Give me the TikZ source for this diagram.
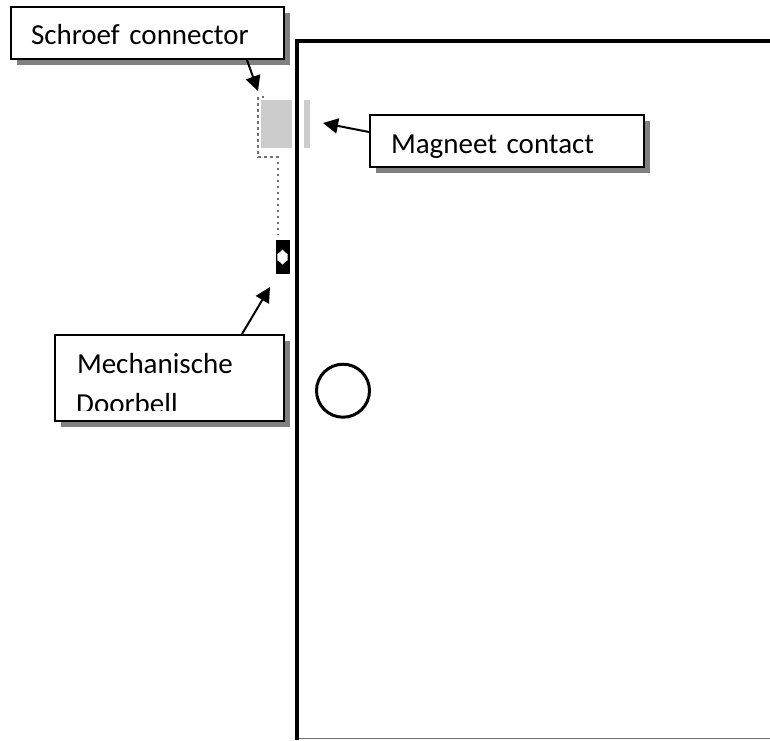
\documentclass[tikz,border=0pt]{standalone}
\usepackage{fontspec}
\setmainfont{Carlito}
\usetikzlibrary{arrows.meta,shadows,calc}
\tikzset{
  callout/.style={draw=black,line width=2pt,fill=white,inner ysep=0pt,anchor=north west,align=left,
    drop shadow={shadow xshift=5.5pt,shadow yshift=-5.5pt,fill=shadowgray,opacity=1}},
  lbl/.style={font=\fontsize{29}{41}\selectfont},
  pointer/.style={line width=2pt,-{Triangle[length=15pt,width=15pt]},shorten >=0pt},
  door/.style={line width=4pt,draw=black},
  part/.style={fill=partgray,draw=none,inner sep=0pt,anchor=north west},
  wire/.style={draw=wiregray,line width=2.2pt,dash pattern=on 2.2pt off 3.8pt}
}
\definecolor{shadowgray}{HTML}{808080}
\definecolor{partgray}{HTML}{CCCCCC}
\definecolor{wiregray}{HTML}{707070}
\begin{document}
\begin{tikzpicture}[x=1pt,y=-1pt]
\useasboundingbox (0,0) rectangle (770,740);
\fill[white] (0,0) rectangle (770,740);
% door
\draw[line width=1.2pt,draw=wiregray] (297,738.8) -- (770,738.8);
\draw[door] (770,41) -- (297.3,41) -- (297.3,740);
\node[draw=black,line width=3pt,circle,minimum size=53pt,inner sep=0pt] (knob) at (343,390.7) {};
% parts
\node[part,minimum width=30.5pt,minimum height=48pt] (connector) at (261,100) {};
\node[part,minimum width=6pt,minimum height=48pt] (magnet) at (303.5,100) {};
\node[fill=black,inner sep=0pt,anchor=north west,minimum width=14pt,minimum height=34pt] (bell) at (275.3,240) {};
\fill[white] ($(bell.center)+(0,-7.5)$) -- ++(3,3) -- ++(2.2,1.5) -- ++(0,6) -- ++(-2.2,1.5) -- ++(-3,3) -- ++(-3,-3) -- ++(-2.2,-1.5) -- ++(0,-6) -- ++(2.2,-1.5) -- cycle;
% wire
\coordinate (wirestart) at (264,97);
\coordinate (wireend) at (278,234);
\draw[wire] (wirestart) -- (258.3,97) -- (258.3,157.3) -- (278,157.3) -- (wireend);
% arrow ends
\coordinate (tipa) at (258,91);
\coordinate (tipb) at (323,123);
\coordinate (tipc) at (270,287);
% callouts
\node[callout,lbl,minimum width=273pt,inner xsep=20pt,text width=233pt,text height=37pt,text depth=15pt] (schroef) at (10,6) {Schroef connector};
\node[callout,lbl,minimum width=274pt,inner xsep=21pt,text width=232pt,text height=38pt,text depth=14pt] (magneet) at (369,114) {Magneet contact};
\node[callout,lbl,minimum width=229pt,inner xsep=22pt,text width=185pt,text height=38pt,text depth=48pt] (mech) at (54,334) {Mechanische};
\begin{scope}
\clip (56,385) rectangle (282,410);
\node[lbl,anchor=base west,inner sep=0pt] (mechtwo) at (76,413) {Doorbell};
\end{scope}
% arrows
\draw[pointer] (schroef.south -| 247,0) -- (tipa);
\draw[pointer] (magneet.west |- 0,132) -- (tipb);
\draw[pointer] (mech.north -| 242,0) -- (tipc);
\end{tikzpicture}
\end{document}
